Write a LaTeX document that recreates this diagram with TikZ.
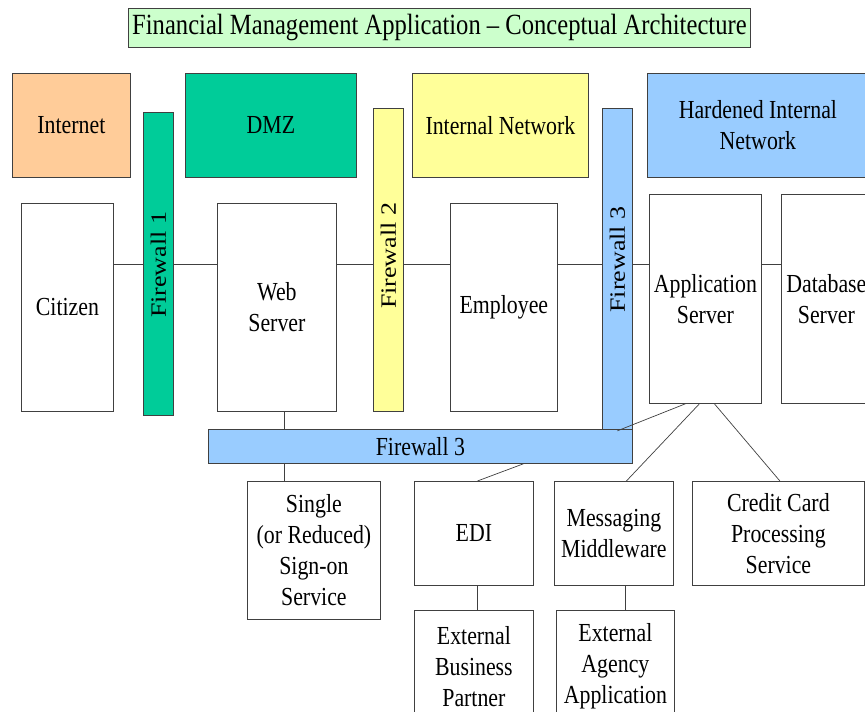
\documentclass[tikz,border=0pt]{standalone}
\usepackage{fontspec}
\setmainfont{Liberation Serif}[FakeStretch=0.84]
\newfontfamily\uprightserif{Liberation Serif}
\usetikzlibrary{calc}

\definecolor{titlegreen}{HTML}{CCFFCC}
\definecolor{peach}{HTML}{FFCC99}
\definecolor{sea}{HTML}{00CC99}
\definecolor{paleyellow}{HTML}{FFFF99}
\definecolor{skyblue}{HTML}{99CCFF}
\definecolor{edge}{HTML}{404040}

% \boxat{name}{x1}{y1}{x2}{y2}{style}{text}
\newcommand{\boxat}[7]{%
  \node[#6, minimum width={(#4-#2)*1pt}, minimum height={(#5-#3)*1pt}]
    (#1) at (#2,#3) {#7};}

\begin{document}
\begin{tikzpicture}[x=1pt,y=-1pt,
  txt/.style={font=\fontsize{26}{31}\selectfont, align=center},
  box/.style={draw=edge, line width=0.8pt, inner sep=0pt, anchor=north west,
              txt, fill=white},
  zone/.style={box},
  wall/.style={box},
  walltext/.style={font=\uprightserif\fontsize{26}{31}\selectfont,
                   xscale=0.84, rotate=90, inner sep=0pt},
  link/.style={draw=edge, line width=0.7pt}
]
\useasboundingbox (0,0) rectangle (865,712);
\clip (0,0) rectangle (865,712);

% title
\boxat{title}{128}{8}{750}{47}{box, fill=titlegreen, font=\fontsize{29.3}{34}\selectfont}{Financial Management Application -- Conceptual Architecture}

% network zones
\boxat{internet}{12}{73}{130}{177}{zone, fill=peach}{Internet}
\boxat{dmz}{185}{73}{356}{177}{zone, fill=sea}{DMZ}
\boxat{intnet}{412}{73}{588}{177}{zone, fill=paleyellow}{Internal Network}
\boxat{hardened}{647}{73}{868}{177}{zone, fill=skyblue}{Hardened Internal\\Network}

% vertical firewalls
\boxat{fw1}{143}{112}{173}{415}{wall, fill=sea}{}
\boxat{fw2}{373}{108}{403}{411}{wall, fill=paleyellow}{}
\boxat{fw3v}{602}{108}{632}{430}{wall, fill=skyblue}{}
\node[walltext] (fw1t) at ([yshift=-1pt]fw1) {Firewall 1};
\node[walltext] (fw2t) at ([yshift=4pt]fw2) {Firewall 2};
\node[walltext] (fw3t) at ([yshift=10pt]fw3v) {Firewall 3};

% horizontal firewall
\boxat{fw3h}{208}{429}{632}{463}{wall, fill=skyblue}{Firewall 3}

% main row
\boxat{citizen}{21}{203}{113}{411}{box}{Citizen}
\boxat{web}{217}{203}{336}{411}{box}{Web\\Server}
\boxat{employee}{450}{203}{557}{411}{box}{Employee}
\boxat{app}{649}{194}{761}{403}{box}{Application\\Server}
\boxat{db}{781}{194}{871}{403}{box}{Database\\Server}

% services
\boxat{sso}{247}{481}{380}{619}{box}{Single\\(or Reduced)\\Sign-on\\Service}
\boxat{edi}{414}{481}{533}{585}{box}{EDI}
\boxat{msg}{554}{481}{673}{585}{box}{Messaging\\Middleware}
\boxat{cc}{692}{481}{864}{585}{box}{Credit Card\\Processing\\Service}
\boxat{ebp}{414}{610}{533}{722}{box}{External\\Business\\Partner}
\boxat{eaa}{556}{610}{674}{722}{box}{External\\Agency\\Application}

% bus line across the main row
\coordinate (bus) at (0,264);
\draw[link] (citizen.east |- bus) -- (fw1.west |- bus);
\draw[link] (fw1.east |- bus) -- (web.west |- bus);
\draw[link] (web.east |- bus) -- (fw2.west |- bus);
\draw[link] (fw2.east |- bus) -- (employee.west |- bus);
\draw[link] (employee.east |- bus) -- (fw3v.west |- bus);
\draw[link] (fw3v.east |- bus) -- (app.west |- bus);
\draw[link] (app.east |- bus) -- (db.west |- bus);

% links through the lower firewall
\coordinate (wsx) at (284,0);
\draw[link] (web.south -| wsx) -- (fw3h.north -| wsx);
\draw[link] (fw3h.south -| wsx) -- (sso.north -| wsx);
\draw[link] ([xshift=103pt]fw3h.south) -- ([xshift=3.5pt]edi.north);
\draw[link] (fw3v.south) -- ([xshift=-20pt]app.south);
\draw[link] ([xshift=-6pt]app.south) -- ([xshift=12.5pt]msg.north);
\draw[link] ([xshift=9pt]app.south) -- ([xshift=1.5pt]cc.north);
\draw[link] ([xshift=3.5pt]edi.south) -- ([xshift=3.5pt]ebp.north);
\draw[link] ([xshift=11.5pt]msg.south) -- ([xshift=11.5pt]msg.south |- eaa.north);
\end{tikzpicture}
\end{document}
